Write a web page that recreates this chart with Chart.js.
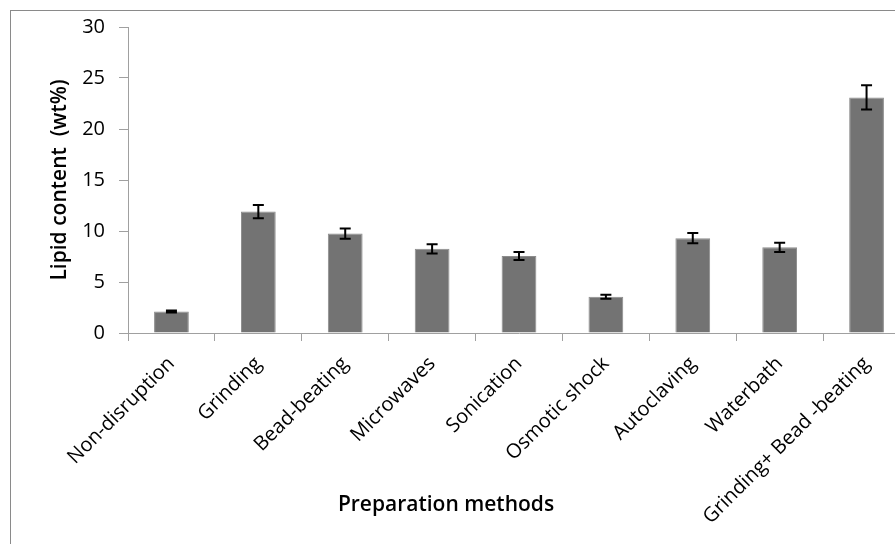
<!DOCTYPE html>
<html>
<head>
<meta charset="utf-8">
<script src="https://cdn.jsdelivr.net/npm/chart.js@4.4.0/dist/chart.umd.min.js"></script>
<style>
  html, body { margin: 0; padding: 0; background: #fff; overflow: hidden; }
  #frame { position: absolute; left: 10px; top: 10px; border: 1px solid #8a8a8a; width: 940px; height: 580px; overflow: hidden; }
  #chart { position: absolute; left: 0; top: -10px; }
  #xtitle { position: absolute; left: 0; width: 892px; top: 489px; text-align: center;
            font-family: "Open Sans", sans-serif; font-weight: 600; font-size: 21px; color: #000; }
</style>
</head>
<body>
<div id="frame"><canvas id="chart" width="930" height="580"></canvas></div>
<div id="xtitle">Preparation methods</div>
<script>
// preparation methods on the x axis
const methods = ['Non-disruption', 'Grinding', 'Bead-beating', 'Microwaves', 'Sonication',
                 'Osmotic shock', 'Autoclaving', 'Waterbath', 'Grinding+ Bead -beating'];
// lipid content (wt%) and its error
const lipid = [2.1, 11.9, 9.75, 8.25, 7.55, 3.55, 9.3, 8.4, 23.1];
const lipidErr = [0.1, 0.65, 0.5, 0.45, 0.4, 0.2, 0.5, 0.45, 1.2];

const axisGrey = '#a0a0a0';

// draws the error bars on top of each bar
const errorBars = {
    id: 'errorBars',
    afterDatasetsDraw(chart) {
        const meta = chart.getDatasetMeta(0);
        const yScale = chart.scales.y;
        const ctx = chart.ctx;
        ctx.save();
        ctx.strokeStyle = '#000';
        ctx.lineWidth = 2;
        meta.data.forEach(function(bar, i) {
            const top = yScale.getPixelForValue(lipid[i] + lipidErr[i]);
            const bot = yScale.getPixelForValue(lipid[i] - lipidErr[i]);
            ctx.beginPath();
            ctx.moveTo(bar.x, top); ctx.lineTo(bar.x, bot);
            ctx.moveTo(bar.x - 5.5, top); ctx.lineTo(bar.x + 5.5, top);
            ctx.moveTo(bar.x - 5.5, bot); ctx.lineTo(bar.x + 5.5, bot);
            ctx.stroke();
        });
        ctx.restore();
    }
};

const data = {
    labels: methods,
    datasets: [{
        label: 'Lipid content',
        data: lipid,
        backgroundColor: '#737373',
        borderColor: '#8c8c8c',
        borderWidth: 1,
        barPercentage: 0.4,
        categoryPercentage: 1
    }]
};

const config = {
    type: 'bar',
    data: data,
    options: {
        responsive: false,
        animation: false,
        devicePixelRatio: 1,
        layout: { padding: { top: 3, right: 31, bottom: 58, left: 0 } },
        plugins: {
            legend: { display: false },
            tooltip: { enabled: false }
        },
        scales: {
            x: {
                grid: { offset: true, drawOnChartArea: false, tickLength: 8, color: axisGrey },
                border: { color: axisGrey },
                ticks: {
                    color: '#000',
                    maxRotation: 45, minRotation: 45,
                    padding: 11,
                    font: { family: 'Open Sans', size: 20 }
                },
                afterFit: function(scale) { scale.height = 190; }
            },
            y: {
                min: 0, max: 30,
                grid: { drawOnChartArea: false, tickLength: 9, color: axisGrey },
                border: { color: axisGrey },
                ticks: {
                    stepSize: 5,
                    color: '#000',
                    padding: 14,
                    font: { family: 'Open Sans', size: 20 }
                },
                title: {
                    display: true,
                    text: 'Lipid content  (wt%)',
                    color: '#000',
                    padding: { top: 36, bottom: 0 },
                    font: { family: 'Open Sans', size: 21, weight: '600' }
                },
                afterFit: function(scale) { scale.width = 117; }
            }
        }
    },
    plugins: [errorBars]
};

const chartLipid = new Chart(document.getElementById('chart'), config);
</script>
</body>
</html>
